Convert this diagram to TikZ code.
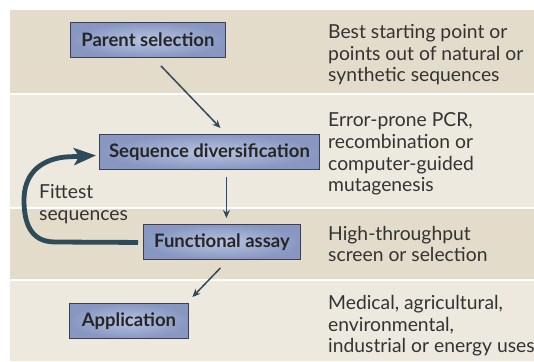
\documentclass[tikz,border=0pt]{standalone}
\usepackage{fontspec}
\setmainfont{Lato}
\usetikzlibrary{arrows.meta,calc}
\definecolor{banddark}{HTML}{E4DCCB}
\definecolor{bandlight}{HTML}{EDE9DF}
\definecolor{arrowcol}{HTML}{2F4A58}
\definecolor{boxedge}{HTML}{3A3F55}
\definecolor{boxouter}{HTML}{8797C2}
\definecolor{boxinner}{HTML}{B7C3DF}
\definecolor{txt}{HTML}{333333}
\tikzset{
  stepbox/.style={draw=boxedge, line width=0.9pt, inner color=boxinner, outer color=boxouter,
    font=\fontsize{18.5}{20}\selectfont\bfseries, text=black!85, anchor=north west, inner sep=0pt},
  desc/.style={font=\fontsize{19.3}{21.7}\selectfont, text=txt, align=left, anchor=base west, inner sep=0pt},
  arr/.style={draw=arrowcol, line width=1.5pt, -{Stealth[length=8pt,width=7pt]}},
  loop/.style={draw=arrowcol, line width=4.8pt, -{Stealth[length=22pt,width=17pt,inset=5pt]}},
}
\begin{document}
\begin{tikzpicture}[x=1pt,y=-1pt]
\useasboundingbox (0,0) rectangle (534,361);
% bands
\fill[banddark] (10,10) rectangle (534,93);
\fill[bandlight] (10,95) rectangle (534,207);
\fill[banddark] (10,209) rectangle (534,279);
\fill[bandlight] (10,281) rectangle (534,361);
% boxes
\node[stepbox, minimum width=155pt, minimum height=35pt] (ps) at (70,22) {Parent selection};
\node[stepbox, minimum width=220pt, minimum height=35pt] (sd) at (99,134) {Sequence diversification};
\node[stepbox, minimum width=157pt, minimum height=35pt] (fa) at (143,224) {Functional assay};
\node[stepbox, minimum width=119pt, minimum height=35pt] (ap) at (69,303) {Application};
% descriptions (anchored at the baseline of the last line)
\node[desc] (d1) at (328,81.7) {Best starting point or\\points out of natural or\\synthetic sequences};
\node[desc] (d2) at (328,191.7) {Error-prone PCR,\\recombination or\\computer-guided\\mutagenesis};
\node[desc] (d3) at (328,261.7) {High-throughput\\screen or selection};
\node[desc] (d4) at (328,352.7) {Medical, agricultural,\\environmental,\\industrial or energy uses};
\node[desc] (fl) at (39,220) {Fittest\\sequences};
% connector coordinates
\coordinate (a1s) at ($(ps.south)+(13,8)$);
\coordinate (a1e) at ($(sd.north)+(11,-6)$);
\coordinate (a2s) at ($(sd.south)+(17,7)$);
\coordinate (a2e) at ($(fa.north)+(4.5,-6)$);
\coordinate (a3s) at ($(fa.south)+(-1.5,8)$);
\coordinate (a3e) at ($(ap.north)+(63.5,-6)$);
\coordinate (ls) at ($(fa.west)+(-5,0.5)$);
\coordinate (le) at ($(sd.west)+(-3,3.5)$);
% connectors
\draw[arr] (a1s) -- (a1e);
\draw[arr] (a2s) -- (a2e);
\draw[arr] (a3s) -- (a3e);
\draw[loop] (ls) -- (55,242) .. controls (30,242) and (24,222) .. (24,200)
  .. controls (24,176) and (38,160) .. (65,157) -- (le);
\end{tikzpicture}
\end{document}
